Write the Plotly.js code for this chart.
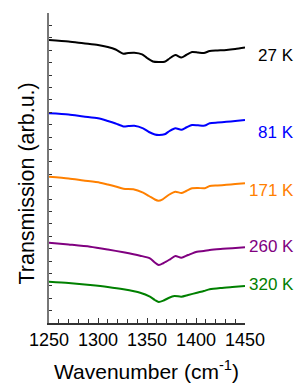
<!DOCTYPE html>
<html><head><meta charset="utf-8">
<script src="https://cdn.plot.ly/plotly-3.0.1.min.js"></script>
<style>html,body{margin:0;padding:0;background:#fff}#c{width:297px;height:383px}</style>
</head><body><div id="c"></div>
<script>
// Wavenumbers (cm^-1) and transmission (arb. u., offset curves)
var wn27 = [1250,1270,1285,1300,1310,1318,1326,1331,1337,1345,1350,1356,1362,1368,1373,1379,1385,1390,1396,1402,1408,1414,1422,1431,1440,1450];
var t27  = [283,281.5,279.7,278,276,273.5,269.2,270,270.3,268.7,265,261.5,261,261.3,264.5,268,265.5,268,271,270.5,269.9,272,272.5,273,274,275.5];

var wn81 = [1250,1270,1285,1300,1310,1318,1326,1331,1337,1346,1352,1358,1362,1368,1373,1379,1385,1390,1396,1402,1409,1414,1422,1431,1440,1450];
var t81  = [209.7,208.5,206.5,204.7,202,199.5,196.6,197,197.3,194.7,191,188.5,188,188.7,192,194.7,193.2,195.5,198,197.7,197.4,199.7,200.5,201.2,202,203];

var wn171 = [1250,1270,1285,1302,1310,1318,1326,1336,1346,1352,1358,1361.5,1366,1372,1379,1385,1390,1396,1402,1409,1414,1422,1431,1440,1450];
var t171  = [146.3,144.5,142.5,140.3,138.5,136.5,134.2,133.7,130.3,127,123.5,122.3,123.7,128,131.3,129.9,132,134.7,135,134.8,137,137.5,138.2,139,139.7];

var wn260 = [1250,1270,1292,1310,1326,1343,1353,1358,1362,1367,1373.5,1379,1385,1392,1401,1408,1414,1425,1437,1450];
var t260  = [80.3,78.5,76.3,73.5,70.7,67.3,64.7,60.5,58,60,63.7,67,65.2,68,71.3,72,73,74,74.7,75.7];

var wn320 = [1250,1270,1292,1310,1326,1343,1353,1358,1362,1367,1372,1378,1385,1392,1401,1408,1414,1425,1437,1450];
var t320  = [41.3,40,38,36,33.7,30.3,26.3,23,21,22.5,25,27,26.3,28,30.3,32,33.7,35,36,37];

var labels = ["27 K","81 K","171 K","260 K","320 K"];
var colors = ["#000000","#0000ff","#ff8000","#800080","#008000"];
var labelY = [268,191,133,77,39];

var xs = [wn27,wn81,wn171,wn260,wn320];
var ys = [t27,t81,t171,t260,t320];

var data = xs.map(function(x,i){
  return {x:x, y:ys[i], type:'scatter', mode:'lines', line:{color:colors[i], width:2, shape:'spline', smoothing:0.7}, hoverinfo:'none', showlegend:false};
});

var ann = labels.map(function(t,i){
  return {text:t, xref:'paper', yref:'y', x:1.26, y:labelY[i], xanchor:'right', yanchor:'middle', showarrow:false, font:{family:'Liberation Sans, Arial, sans-serif', size:17, color:colors[i]}};
});
ann.push({text:'Transmission (arb.u.)', xref:'paper', yref:'paper', x:-0.117, y:0.45, xanchor:'center', yanchor:'middle', textangle:-90, showarrow:false, font:{family:'Liberation Sans, Arial, sans-serif', size:21.5, color:'#000'}});
ann.push({text:'Wavenumber (cm<sup>-1</sup>)', xref:'paper', yref:'paper', x:0.495, y:-0.152, xanchor:'center', yanchor:'middle', showarrow:false, font:{family:'Liberation Sans, Arial, sans-serif', size:21, color:'#000'}});

var layout = {
  width:297, height:383,
  margin:{l:49, r:52, t:13, b:60, pad:0},
  paper_bgcolor:'#fff', plot_bgcolor:'#fff',
  font:{family:'Liberation Sans, Arial, sans-serif', color:'#000'},
  xaxis:{range:[1250,1450], showgrid:false, zeroline:false, showline:true, linecolor:'#333', linewidth:1.5,
    ticks:'inside', ticklen:5, tickcolor:'#333', tickwidth:1, dtick:50, tick0:1250,
    tickfont:{size:18, color:'#000'},
    minor:{dtick:10, ticks:'inside', ticklen:4, tickcolor:'#333', showgrid:false}},
  yaxis:{range:[0,310], showgrid:false, zeroline:false, showline:true, linecolor:'#777', linewidth:2,
    ticks:'inside', ticklen:3, tickcolor:'#333', tickwidth:1, dtick:12.4, tick0:0, showticklabels:false},
  annotations:ann
};
Plotly.newPlot('c', data, layout, {staticPlot:true, displayModeBar:false});
</script>
</body></html>
